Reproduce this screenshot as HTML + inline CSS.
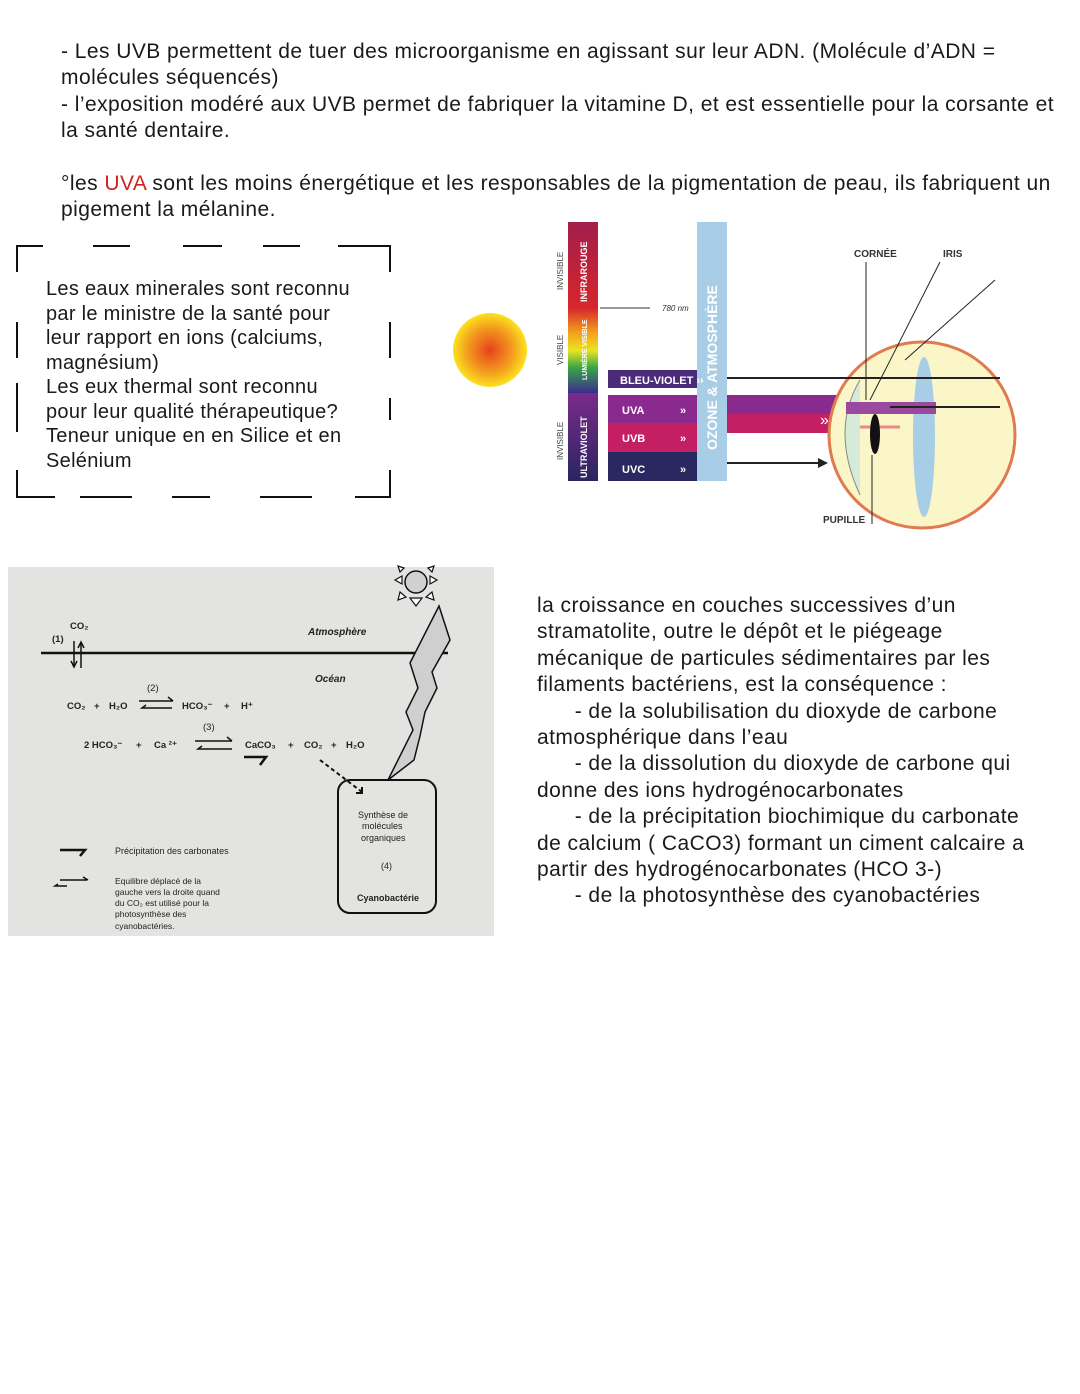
<!DOCTYPE html>
<html><head><meta charset="utf-8"><style>
body{margin:0;width:1080px;height:1394px;background:#fff;position:relative;font-family:"Liberation Sans",sans-serif;color:#1a1a1a;overflow:hidden}
.t{position:absolute;font-size:21px;letter-spacing:0.45px;line-height:26.4px;white-space:nowrap}
.d{position:absolute;font-size:20px;letter-spacing:0.3px;line-height:24.5px;white-space:nowrap}
svg{position:absolute}
</style></head><body>
<div class="t" style="left:61px;top:39px">- Les UVB permettent de tuer des microorganisme en agissant sur leur ADN. (Molécule d’ADN =<br>molécules séquencés)<br>- l’exposition modéré aux UVB permet de fabriquer la vitamine D, et est essentielle pour la corsante et<br>la santé dentaire.</div>
<div class="t" style="left:61px;top:171px">°les <span style="color:#d0211c">UVA</span> sont les moins énergétique et les responsables de la pigmentation de peau, ils fabriquent un<br>pigement la mélanine.</div>

<svg style="left:0;top:0" width="400" height="510">
<g stroke="#111" stroke-width="2" fill="none">
<path d="M17 272V246H43M93 246H130M183 246H222M263 246H300M338 246H390V272"/>
<path d="M17 322V358M17 383V432M390 322V358M390 398V420"/>
<path d="M17 470V497H55M80 497H132M172 497H210M260 497H312M355 497H390V470"/>
</g></svg>
<div class="d" style="left:46px;top:277px">Les eaux minerales sont reconnu<br>par le ministre de la santé pour<br>leur rapport en ions (calciums,<br>magnésium)<br>Les eux thermal sont reconnu<br>pour leur qualité thérapeutique?<br>Teneur unique en en Silice et en<br>Selénium</div>

<!-- UV diagram -->
<svg style="left:0;top:0" width="1080" height="540">
<defs>
<radialGradient id="sun"><stop offset="0" stop-color="#e8421c"/><stop offset="0.6" stop-color="#f39a1e"/><stop offset="1" stop-color="#fbe21f"/></radialGradient>
<linearGradient id="vis" x1="0" y1="0" x2="0" y2="1"><stop offset="0" stop-color="#d6272b"/><stop offset="0.3" stop-color="#f4a41c"/><stop offset="0.5" stop-color="#e9e41f"/><stop offset="0.7" stop-color="#3aa648"/><stop offset="1" stop-color="#3a2c8e"/></linearGradient>
<linearGradient id="ir" x1="0" y1="0" x2="0" y2="1"><stop offset="0" stop-color="#a11e4c"/><stop offset="1" stop-color="#d7262b"/></linearGradient>
<linearGradient id="uv" x1="0" y1="0" x2="0" y2="1"><stop offset="0" stop-color="#7a2b8a"/><stop offset="1" stop-color="#2a2560"/></linearGradient>
</defs>
<circle cx="490" cy="350" r="37" fill="url(#sun)"/>
<rect x="568" y="222" width="30" height="86" fill="url(#ir)"/>
<rect x="568" y="308" width="30" height="85" fill="url(#vis)"/>
<rect x="568" y="393" width="30" height="88" fill="url(#uv)"/>
<g font-family="Liberation Sans" font-weight="bold" font-size="9" fill="#fff">
<text transform="translate(587,302) rotate(-90)">INFRAROUGE</text>
<text transform="translate(587,380) rotate(-90)" font-size="7">LUMIÈRE VISIBLE</text>
<text transform="translate(587,478) rotate(-90)">ULTRAVIOLET</text>
</g>
<g font-family="Liberation Sans" font-size="8" fill="#444">
<text transform="translate(563,290) rotate(-90)">INVISIBLE</text>
<text transform="translate(563,365) rotate(-90)">VISIBLE</text>
<text transform="translate(563,460) rotate(-90)">INVISIBLE</text>
</g>
<line x1="600" y1="308" x2="650" y2="308" stroke="#333"/>
<text x="662" y="311" font-size="8" fill="#333" font-style="italic">780 nm</text>
<rect x="697" y="222" width="30" height="259" fill="#a8cde6"/>
<text transform="translate(717,450) rotate(-90)" font-size="14" font-weight="bold" fill="#fff">OZONE &amp; ATMOSPHÈRE</text>
<rect x="608" y="370" width="89" height="18" fill="#4a2b7a"/>
<text x="620" y="384" font-size="11" font-weight="bold" fill="#fff">BLEU-VIOLET ››</text>
<rect x="608" y="395" width="89" height="28" fill="#8a2a8e"/>
<rect x="608" y="423" width="89" height="29" fill="#c41f62"/>
<rect x="608" y="452" width="89" height="29" fill="#2a2860"/>
<g font-size="11" font-weight="bold" fill="#fff"><text x="622" y="414">UVA</text><text x="622" y="442">UVB</text><text x="622" y="473">UVC</text>
<text x="680" y="414">»</text><text x="680" y="442">»</text><text x="680" y="473">»</text></g>
<rect x="727" y="395" width="110" height="19" fill="#8a2a8e"/>
<rect x="727" y="414" width="110" height="19" fill="#c41f62"/>
<text x="820" y="425" font-size="16" fill="#fff">»</text>
<circle cx="922" cy="435" r="93" fill="#fbf6c8" stroke="#e07a50" stroke-width="3"/>
<path d="M860 380 Q830 430 860 495" fill="#d6ead8" stroke="#888"/>
<ellipse cx="924" cy="437" rx="11" ry="80" fill="#a8cde6"/>
<rect x="846" y="402" width="90" height="12" fill="#9a4a9e"/>
<line x1="860" y1="427" x2="900" y2="427" stroke="#e88" stroke-width="3"/>
<ellipse cx="875" cy="434" rx="5" ry="20" fill="#111"/>
<line x1="727" y1="378" x2="1000" y2="378" stroke="#222" stroke-width="2"/>
<line x1="890" y1="407" x2="1000" y2="407" stroke="#222" stroke-width="2"/>
<line x1="727" y1="463" x2="820" y2="463" stroke="#222" stroke-width="2"/>
<path d="M828 463 L818 458 L818 468Z" fill="#222"/>
<line x1="866" y1="262" x2="866" y2="400" stroke="#222"/>
<line x1="940" y1="262" x2="870" y2="400" stroke="#222"/>
<line x1="995" y1="280" x2="905" y2="360" stroke="#222"/>
<line x1="872" y1="455" x2="872" y2="524" stroke="#222"/>
<g font-size="10" font-weight="bold" fill="#333"><text x="854" y="257">CORNÉE</text><text x="943" y="257">IRIS</text><text x="823" y="523">PUPILLE</text></g>
</svg>

<!-- carbon diagram -->
<svg style="left:0;top:0" width="500" height="940">
<rect x="8" y="567" width="486" height="369" fill="#e3e3e1"/>
<g stroke="#111" fill="none">
<line x1="41" y1="653" x2="448" y2="653" stroke-width="2.5"/>
<line x1="74" y1="641" x2="74" y2="666" stroke-width="1.5"/><path d="M71 661 L74 667 L77 661" stroke-width="1.5"/>
<line x1="81" y1="643" x2="81" y2="668" stroke-width="1.5"/><path d="M78 648 L81 642 L84 648" stroke-width="1.5"/>
<circle cx="416" cy="582" r="11" fill="#d0d0d0" stroke-width="1.5"/>
<path d="M395 580l7-4v8zM437 580l-7-4v8zM410 598l6 8 6-8zM400 592l-2 8 8-3zM432 592l2 8-8-3zM400 572l-2-6 6 2zM432 572l2-6-6 2z" fill="#fff" stroke-width="1.2"/>
<path d="M439 606 L450 640 L432 672 L437 688 L425 712 L420 736 L414 760 L388 780 L413 730 L406 712 L418 688 L410 663 Z" fill="#cfcfcf" stroke-width="1.5"/>
<rect x="338" y="780" width="98" height="133" rx="12" stroke-width="2"/>
<path d="M139 701h34M168 697l5 4M172 708h-30l4 -3" stroke-width="1.5"/>
<path d="M195 741h37M227 737l5 4M232 749h-34l4 -3" stroke-width="1.5"/>
<path d="M244 757h22l-6 8" stroke-width="2.5"/>
<path d="M320 760 L362 792" stroke-width="2" stroke-dasharray="4 3"/><path d="M356 793h6v-6" stroke-width="2"/>
<path d="M60 850h25l-5 6" stroke-width="2.5"/>
<path d="M60 880h27M83 877l5 3M67 886h-12l3 -2" stroke-width="1.5"/>
</g>
<g font-family="Liberation Sans" font-weight="bold" fill="#222" font-size="9.5">
<text x="70" y="629">CO₂</text><text x="52" y="642">(1)</text>
<text x="308" y="635" font-style="italic" font-size="10">Atmosphère</text>
<text x="315" y="682" font-style="italic" font-size="10">Océan</text>
<text x="147" y="691" font-weight="normal">(2)</text>
<text x="67" y="709">CO₂</text><text x="94" y="709">+</text><text x="109" y="709">H₂O</text>
<text x="182" y="709">HCO₃⁻</text><text x="224" y="709">+</text><text x="241" y="709">H⁺</text>
<text x="203" y="730" font-weight="normal">(3)</text>
<text x="84" y="748">2 HCO₃⁻</text><text x="136" y="748">+</text><text x="154" y="748">Ca ²⁺</text>
<text x="245" y="748">CaCO₃</text><text x="288" y="748">+</text><text x="304" y="748">CO₂</text><text x="331" y="748">+</text><text x="346" y="748">H₂O</text>
<text x="358" y="818" font-weight="normal" font-size="9">Synthèse de</text><text x="362" y="829" font-weight="normal" font-size="9">molécules</text><text x="361" y="841" font-weight="normal" font-size="9">organiques</text>
<text x="381" y="869" font-weight="normal" font-size="9">(4)</text>
<text x="357" y="901" font-size="9">Cyanobactérie</text>
<text x="115" y="854" font-weight="normal" font-size="9">Précipitation des carbonates</text>
<text x="115" y="884" font-weight="normal" font-size="8.5">Equilibre  déplacé  de  la</text>
<text x="115" y="895" font-weight="normal" font-size="8.5">gauche vers la droite quand</text>
<text x="115" y="906" font-weight="normal" font-size="8.5">du CO₂ est utilisé pour la</text>
<text x="115" y="917" font-weight="normal" font-size="8.5">photosynthèse          des</text>
<text x="115" y="929" font-weight="normal" font-size="8.5">cyanobactéries.</text>
</g></svg>

<div class="t" style="left:537px;top:593px">la croissance en couches successives d’un<br>stramatolite, outre le dépôt et le piégeage<br>mécanique de particules sédimentaires par les<br>filaments bactériens, est la conséquence :<br>&nbsp;&nbsp;&nbsp;&nbsp;&nbsp;&nbsp;- de la solubilisation du dioxyde de carbone<br>atmosphérique dans l’eau<br>&nbsp;&nbsp;&nbsp;&nbsp;&nbsp;&nbsp;- de la dissolution du dioxyde de carbone qui<br>donne des ions hydrogénocarbonates<br>&nbsp;&nbsp;&nbsp;&nbsp;&nbsp;&nbsp;- de la précipitation biochimique du carbonate<br>de calcium ( CaCO3) formant un ciment calcaire a<br>partir des hydrogénocarbonates (HCO 3-)<br>&nbsp;&nbsp;&nbsp;&nbsp;&nbsp;&nbsp;- de la photosynthèse des cyanobactéries</div>
</body></html>
